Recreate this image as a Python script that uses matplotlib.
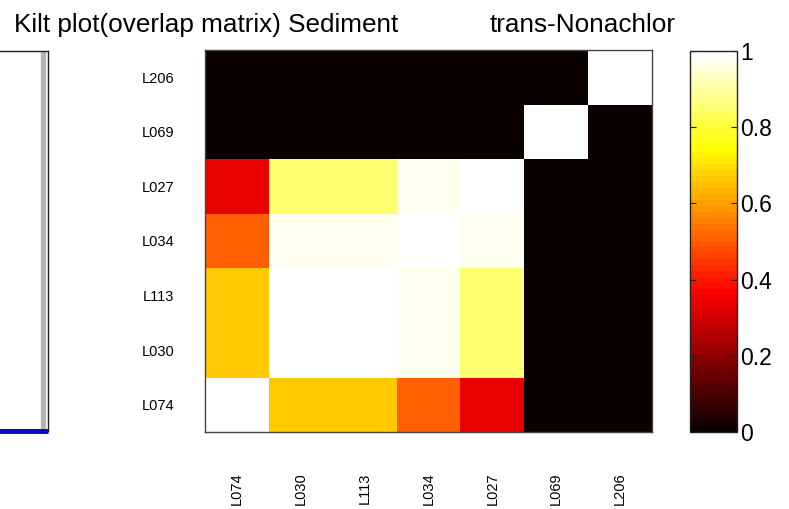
import numpy as np
import matplotlib
matplotlib.use("Agg")
import matplotlib.pyplot as plt

plt.rcParams['font.family'] = ['Liberation Sans', 'DejaVu Sans']

# ---- data ----
labels = ["L074", "L030", "L113", "L034", "L027", "L069", "L206"]
row_L074 = [1.00, 0.67, 0.67, 0.50, 0.33, 0.00, 0.00]
row_L030 = [0.67, 1.00, 1.00, 0.97, 0.85, 0.00, 0.00]
row_L113 = [0.67, 1.00, 1.00, 0.97, 0.85, 0.00, 0.00]
row_L034 = [0.50, 0.97, 0.97, 1.00, 0.97, 0.00, 0.00]
row_L027 = [0.33, 0.85, 0.85, 0.97, 1.00, 0.00, 0.00]
row_L069 = [0.00, 0.00, 0.00, 0.00, 0.00, 1.00, 0.00]
row_L206 = [0.00, 0.00, 0.00, 0.00, 0.00, 0.00, 1.00]
cbar_ticks = [0, 0.2, 0.4, 0.6, 0.8, 1]
cbar_ticklabels = ["0", "0.2", "0.4", "0.6", "0.8", "1"]
# left (cut-off) panel lines
left_gray_x = [0.9818, 0.9818]
left_gray_y = [0.0, 1.0]
left_blue_x = [0.0, 1.0]
left_blue_y = [0.0, 0.0]

title_left = "Kilt plot(overlap matrix) Sediment"
title_right = "trans-Nonachlor"

W, H = 789, 509
fig = plt.figure(figsize=(W / 100, H / 100), dpi=100)
fig.patch.set_facecolor("white")

def rect(x0, y0, x1, y1):
    return [x0 / W, 1 - y1 / H, (x1 - x0) / W, (y1 - y0) / H]

# left cut-off panel
axl = fig.add_axes(rect(-200, 51, 48, 431))
axl.plot(left_gray_x, left_gray_y, color="#b4b4b4", lw=3.8, solid_capstyle="butt")
axl.plot(left_blue_x, left_blue_y, color="#0000dd", lw=3.5, solid_capstyle="butt",
         clip_on=False)
axl.set_xlim(0, 1)
axl.set_ylim(0, 1)
axl.set_xticks([])
axl.set_yticks([])
for s in axl.spines.values():
    s.set_color("#222222")
    s.set_linewidth(1.0)

# heatmap
mat = np.array([row_L074, row_L030, row_L113, row_L034, row_L027, row_L069, row_L206])
cmap = plt.get_cmap("hot", 64)
ax = fig.add_axes(rect(205, 50, 652, 432))
im = ax.imshow(mat, cmap=cmap, vmin=0, vmax=1, origin="lower", aspect="auto",
               interpolation="nearest")
ax.set_xticks(range(len(labels)))
ax.set_xticklabels(labels, rotation=90, fontsize=10.5)
ax.set_yticks(range(len(labels)))
ax.set_yticklabels(labels, fontsize=10.5)
ax.tick_params(length=0)
ax.tick_params(axis="y", pad=22)
ax.tick_params(axis="x", pad=29)
for s in ax.spines.values():
    s.set_color("#444444")
    s.set_linewidth(1.0)

# colorbar
cax = fig.add_axes(rect(690, 51, 737, 432))
cb = fig.colorbar(im, cax=cax)
cb.set_ticks(cbar_ticks)
cb.set_ticklabels(cbar_ticklabels)
cax.tick_params(direction="in", length=4, width=0.8, labelsize=16.5, pad=2,
                left=True, right=True, colors="#222222", labelcolor="black")
cb.outline.set_edgecolor("#222222")
cb.outline.set_linewidth(1.0)

fig.text(14 / W, 1 - 32 / H, title_left, fontsize=18.8, ha="left", va="baseline")
fig.text(490 / W, 1 - 32 / H, title_right, fontsize=18.8, ha="left", va="baseline")

fig.savefig("out.png", dpi=100, facecolor="white")
